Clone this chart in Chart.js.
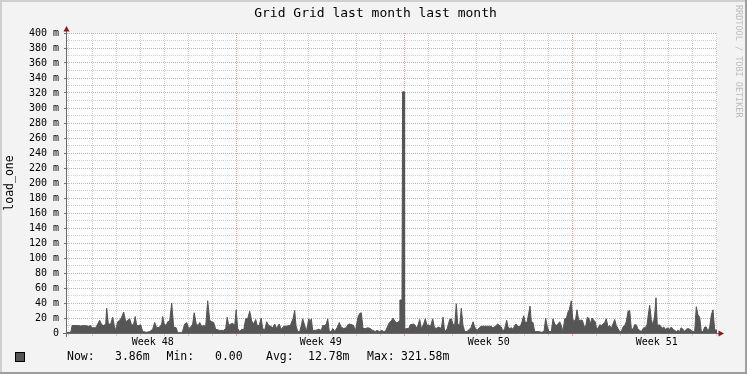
<!DOCTYPE html>
<html>
<head>
<meta charset="utf-8">
<script src="https://cdn.jsdelivr.net/npm/chart.js@4.4.1/dist/chart.umd.min.js"></script>
<style>
  html, body { margin: 0; padding: 0; background: #f3f3f3; }
  #grafico { display: block; }
</style>
</head>
<body>
<canvas id="grafico" width="747" height="374"></canvas>
<script>
// hours since start of week 48, one sample per reading
const hours = [
  -1.7, 2, 3.5, 8, 12, 16, 20, 22, 23, 27, 29, 31, 33, 35, 37, 38, 39.5, 41.5, 44, 45.5,
  47, 49, 51, 53, 55, 57, 59, 61, 63, 65, 66.5, 68, 70, 72, 74, 78, 81, 84, 86, 88,
  91, 93, 94, 95.5, 97.5, 99, 101, 103, 105, 107.5, 109, 113, 114, 116, 118, 120, 122, 124, 125.5, 127.5,
  129.5, 131, 133, 135, 137, 139, 141, 143, 145, 147, 151, 155, 157, 158.5, 160, 162, 164, 166, 167.5, 169,
  171, 173, 175, 177, 179, 181, 183, 185, 187, 188.5, 190.5, 192.5, 194, 196, 198, 200, 202, 204, 206, 208,
  210.5, 212.5, 215, 216.5, 221.6, 224.3, 226, 227.3, 229, 231, 232.6, 234, 236, 237.6, 239, 240, 241.6, 242.6, 244, 246.6,
  250, 252.6, 254, 256, 257.6, 259, 260.6, 262.6, 264, 266, 268.3, 270.6, 272.3, 275, 277.6, 279, 280.6, 283.3, 285, 286.6,
  289.3, 291, 292.6, 294.3, 296.6, 299.3, 301.6, 304, 306.6, 308.3, 310.6, 313.3, 315, 316.6, 319.3, 320.6, 322.6, 324.3, 326, 327.6,
  329.3, 330.5, 331.2, 333.3, 333.9, 335.3, 335.9, 338, 340, 341.6, 345, 346.6, 348.3, 351, 352.6, 355, 356.6, 358.3, 360, 361.6,
  364, 365.6, 367.3, 370, 372.6, 374.3, 376, 378.3, 381, 382.6, 384.3, 386, 387.6, 389, 391, 392.6, 394.3, 396, 398.3, 400.6,
  402.3, 404.3, 406, 408.3, 410.6, 412.3, 414.3, 416.6, 419, 420.6, 422.6, 424.3, 426.6, 429, 431, 432.6, 434.3, 436, 438, 439.3,
  441, 442.6, 444.3, 446, 447.3, 448.6, 450.3, 452, 453.3, 455, 456.6, 458.3, 460, 461.3, 462.6, 464.3, 466, 468, 470, 472.6,
  475.3, 477, 478.3, 480.3, 482.6, 484.3, 486, 487.6, 489.3, 491, 492.6, 494.3, 496, 497.6, 499.3, 500.6, 502.6, 504, 505.3, 507,
  508.3, 510, 512, 513.6, 515.3, 516.6, 518.6, 520, 521.6, 523.3, 525, 526.6, 527.6, 529.3, 531, 532.6, 534.3, 536, 537.6, 539.3,
  541, 542.6, 544.3, 546, 547.6, 549.3, 551, 552.6, 554.3, 556, 557.6, 559.3, 561, 562.6, 564.3, 566, 567.6, 569.3, 571, 572.6,
  575, 576.6, 578.3, 580, 581, 582.6, 584.3, 586, 587.3, 588.6, 590.3, 591.6, 593.3, 595, 596.6, 598.3, 599.3, 601, 602.6, 604.3,
  606, 607.6, 609.3, 611, 612.3, 614.3, 616, 617.6, 619.3, 621, 622.6, 624.3, 626, 627.6, 629.3, 631, 632.6, 634.3, 636, 637.6,
  639.3, 641, 642.6, 644.3, 646, 648.3
];

// load_one in milli units
const loadOne = [
  0.5, 1, 10, 10, 9.5, 10, 9, 10, 7, 7, 12, 17, 11, 10, 12, 33, 14, 10, 21, 10,
  3.5, 15, 17, 21, 28, 15, 17, 19, 10, 12, 22, 10, 10, 11, 2, 1, 2, 5, 14, 7,
  8, 12, 22, 12, 10, 15, 16, 40, 8, 7, 0.5, 0.5, 3, 12, 14, 6, 8, 12, 27, 12,
  10, 14, 9, 10, 9, 43, 17, 15, 14, 5, 3.5, 3.5, 6, 21, 10, 12, 13, 10, 31, 6,
  2, 5, 4, 19, 19, 29, 16, 12, 18, 10, 10, 20, 6, 4, 15, 10, 9, 7, 12, 6,
  12, 5, 9, 9, 10, 19, 30, 10, 2, 2, 10, 19, 10, 2, 11, 19, 15, 19, 3.5, 3.5,
  5, 3.5, 10, 10, 12, 19, 2, 2, 6, 2, 7, 14, 8, 6, 7, 11, 12, 11, 10, 2,
  21, 26, 27, 6, 6, 7, 6, 3.5, 2, 3.5, 2, 3.5, 2, 2, 10, 14, 16, 20, 16, 14,
  14, 16, 44, 44, 321.58, 321.58, 5, 6, 6, 11, 12, 10, 6, 18, 6, 12, 19, 10, 11, 8,
  19, 8, 6, 8, 6, 21, 2, 5, 18, 19, 12, 10, 39, 12, 10, 33, 10, 2, 2, 5,
  7, 15, 8, 3.5, 7, 9, 9, 9, 9, 9, 9, 7, 9, 12, 10, 8, 2, 6, 17, 8,
  6, 7, 5, 10, 12, 10, 8, 10, 15, 23, 14, 14, 26, 36, 15, 14, 2, 2, 2, 1,
  2, 20, 10, 2, 2, 19, 12, 10, 12, 15, 10, 2, 19, 19, 28, 31, 43, 19, 15, 19,
  31, 17, 17, 17, 10, 6, 21, 20, 12, 20, 17, 15, 7, 6, 11, 10, 12, 14, 19, 8,
  10, 6, 12, 18, 10, 6, 2, 2, 8, 10, 15, 29, 30, 6, 5, 11, 11, 5, 3.5, 2,
  7, 7, 11, 28, 37, 18, 10, 24, 47, 10, 11, 10, 6, 8, 5, 6, 7, 5, 8, 5,
  3.5, 2, 3.5, 2, 7, 5, 2, 5, 6, 5, 3.5, 2, 2, 35, 24, 21, 2, 2, 8, 8,
  2, 8, 24, 31, 4, 3.86
];

const yTickLabels = ['0', '20 m', '40 m', '60 m', '80 m', '100 m', '120 m', '140 m', '160 m', '180 m', '200 m',
  '220 m', '240 m', '260 m', '280 m', '300 m', '320 m', '340 m', '360 m', '380 m', '400 m'];
const weekLabels = ['Week 48', 'Week 49', 'Week 50', 'Week 51'];
const weekCenters = [84, 252, 420, 588];
const legendLabels = ['Now:', 'Min:', 'Avg:', 'Max:'];
const legendValues = ['3.86m', '0.00', '12.78m', '321.58m'];

const ROJO = '#e8a0a0';
const GRIS = '#cfcfcf';
const FUENTE = '"DejaVu Sans Mono", monospace';

const marcoRrd = {
  id: 'marcoRrd',
  beforeDraw(chart) {
    const { ctx, width, height, chartArea: a } = chart;
    ctx.save();
    ctx.fillStyle = '#f3f3f3';
    ctx.fillRect(0, 0, width, height);
    ctx.fillStyle = '#cfcfcf';
    ctx.fillRect(0, 0, width, 2);
    ctx.fillRect(0, 0, 2, height);
    ctx.fillStyle = '#9e9e9e';
    ctx.fillRect(0, height - 2, width, 2);
    ctx.fillRect(width - 2, 0, 2, height);
    ctx.fillStyle = '#ffffff';
    ctx.fillRect(a.left, a.top, a.right - a.left, a.bottom - a.top);
    ctx.restore();
  },
  afterDatasetsDraw(chart) {
    const { ctx, chartArea: a } = chart;
    ctx.save();
    // axis lines
    ctx.strokeStyle = '#6a6a6a';
    ctx.lineWidth = 1;
    ctx.beginPath();
    ctx.moveTo(a.left - 0.5, a.top - 2);
    ctx.lineTo(a.left - 0.5, a.bottom + 4);
    ctx.moveTo(a.left - 4, a.bottom + 0.5);
    ctx.lineTo(a.right + 2, a.bottom + 0.5);
    ctx.stroke();
    // arrows
    ctx.fillStyle = '#8b1a1a';
    ctx.beginPath();
    ctx.moveTo(a.left - 0.5, a.top - 7);
    ctx.lineTo(a.left - 3.5, a.top - 1.5);
    ctx.lineTo(a.left + 2.5, a.top - 1.5);
    ctx.closePath();
    ctx.fill();
    ctx.beginPath();
    ctx.moveTo(a.right + 7, a.bottom + 0.5);
    ctx.lineTo(a.right + 1.5, a.bottom - 2.5);
    ctx.lineTo(a.right + 1.5, a.bottom + 3.5);
    ctx.closePath();
    ctx.fill();
    ctx.restore();
  },
  afterDraw(chart) {
    const { ctx, width } = chart;
    ctx.save();
    ctx.fillStyle = '#000';
    ctx.textBaseline = 'middle';
    ctx.textAlign = 'center';
    ctx.font = '13px ' + FUENTE;
    ctx.fillText('Grid Grid last month last month', width / 2 + 2, 14);

    // watermark
    ctx.save();
    ctx.translate(738.5, 5);
    ctx.rotate(Math.PI / 2);
    ctx.textAlign = 'left';
    ctx.fillStyle = '#bcbcbc';
    ctx.font = '8.5px ' + FUENTE;
    ctx.fillText('RRDTOOL / TOBI OETIKER', 0, 0);
    ctx.restore();

    // legend
    ctx.fillStyle = '#555555';
    ctx.fillRect(15.5, 352.5, 9, 9);
    ctx.strokeStyle = '#000';
    ctx.lineWidth = 1;
    ctx.strokeRect(15.5, 352.5, 9, 9);
    ctx.fillStyle = '#000';
    ctx.textAlign = 'left';
    ctx.font = '11.5px ' + FUENTE;
    const xEtiqueta = [67, 166.5, 266, 367];
    const xValor = [115, 215, 308, 401];
    legendLabels.forEach(function(t, i) {
      ctx.fillText(t, xEtiqueta[i], 357.5);
      ctx.fillText(legendValues[i], xValor[i], 357.5);
    });
    ctx.restore();
  }
};

function crearGrafico() {
  const ctx = document.getElementById('grafico').getContext('2d');
  const puntos = hours.map(function(h, i) { return { x: h, y: loadOne[i] }; });

  const diasTicks = [];
  for (let h = 0; h <= 648; h += 24) diasTicks.push(h);
  const xTicks = diasTicks.concat(weekCenters).sort(function(a, b) { return a - b; });

  function colorDia(c) {
    const v = c.tick ? c.tick.value : 0;
    if (weekCenters.includes(v)) return 'rgba(0,0,0,0)';
    return (v % 168 === 0 && v > 0) ? ROJO : GRIS;
  }

  new Chart(ctx, {
    type: 'line',
    data: {
      datasets: [{
        label: 'load_one',
        data: puntos,
        borderColor: '#555555',
        backgroundColor: '#555555',
        borderWidth: 1,
        pointRadius: 0,
        tension: 0,
        fill: 'origin'
      }]
    },
    options: {
      responsive: false,
      animation: false,
      devicePixelRatio: 1,
      layout: { padding: { left: 0, top: 33, right: 30, bottom: 0 } },
      font: { family: FUENTE },
      plugins: {
        legend: { display: false },
        tooltip: { enabled: false },
        title: { display: false }
      },
      scales: {
        x: {
          type: 'linear',
          min: -1.7,
          max: 648.3,
          afterBuildTicks: function(s) { s.ticks = xTicks.map(function(v) { return { value: v }; }); },
          afterFit: function(s) { s.height = 41; },
          border: { display: false, dash: [1, 1] },
          grid: {
            color: colorDia,
            tickColor: colorDia,
            tickLength: 3
          },
          ticks: {
            autoSkip: false,
            maxRotation: 0,
            minRotation: 0,
            padding: 0,
            color: '#000',
            font: { family: FUENTE, size: 10 },
            callback: function(v) {
              const i = weekCenters.indexOf(v);
              return i >= 0 ? weekLabels[i] : '';
            }
          }
        },
        y: {
          min: 0,
          max: 400,
          afterFit: function(s) { s.width = 67; },
          border: { display: false, dash: [1, 1] },
          grid: {
            color: function(c) { return (c.tick && c.tick.value % 20 === 0) ? ROJO : GRIS; },
            tickColor: function(c) { return (c.tick && c.tick.value % 20 === 0) ? '#8a6a6a' : 'rgba(0,0,0,0)'; },
            tickLength: 3
          },
          ticks: {
            stepSize: 10,
            maxTicksLimit: 100,
            autoSkip: false,
            padding: 5,
            color: '#000',
            font: { family: FUENTE, size: 10 },
            callback: function(v) { return v % 20 === 0 ? yTickLabels[v / 20] : ''; }
          },
          title: {
            display: true,
            text: 'load_one',
            color: '#000',
            font: { family: FUENTE, size: 11.5 },
            padding: { top: 3, bottom: 0 }
          }
        }
      }
    },
    plugins: [marcoRrd]
  });
}

document.addEventListener('DOMContentLoaded', crearGrafico);
</script>
</body>
</html>
